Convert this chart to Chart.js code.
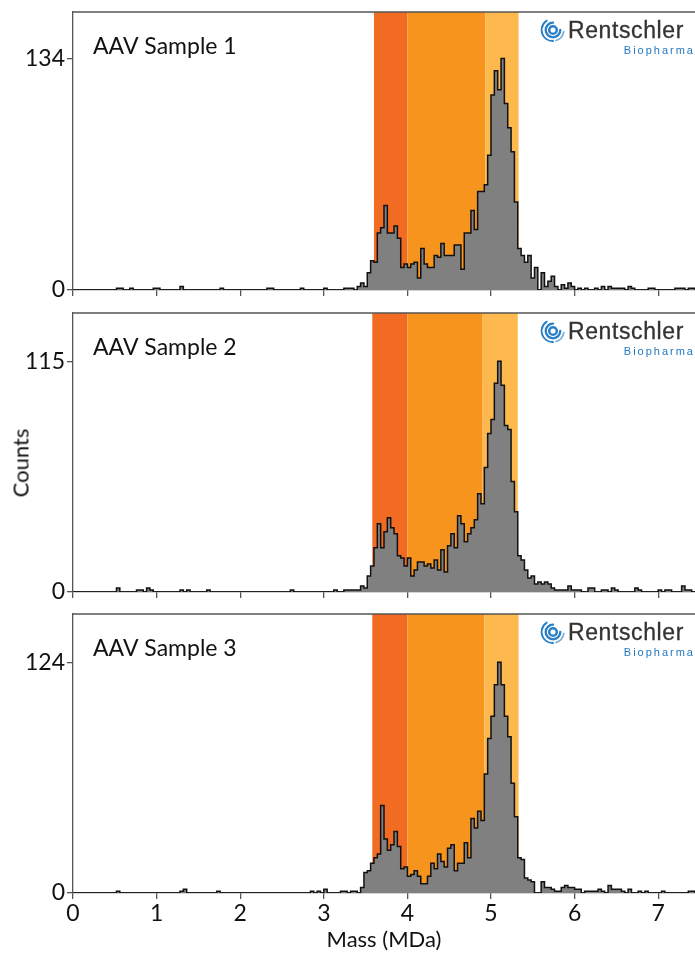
<!DOCTYPE html>
<html>
<head>
<meta charset="utf-8">
<script src="https://cdn.jsdelivr.net/npm/chart.js@4.4.1/dist/chart.umd.min.js"></script>
<style>
  html, body { margin: 0; padding: 0; background: #fff; overflow: hidden; }
  body { width: 695px; height: 955px; position: relative; font-family: Lato, sans-serif; }
  canvas { position: absolute; left: 0; }
  .logo { position: absolute; left: 538px; width: 157px; height: 44px; }
  .logo svg { position: absolute; left: 0; top: 0; }
  .logo .rt { position: absolute; left: 30px; top: 3px; font: 23px/1 "Liberation Sans", Arial, sans-serif; letter-spacing: 0.6px; color: #333; white-space: nowrap; -webkit-text-stroke: 0.3px #333; }
  .logo .bp { position: absolute; right: 0; top: 29px; font: 11px/1 "Liberation Sans", Arial, sans-serif; letter-spacing: 2px; color: #2379c0; white-space: nowrap; }
  #ylab { position: absolute; left: 20px; top: 463px; transform: translate(-50%, -50%) rotate(-90deg); font: 22px Lato, sans-serif; color: #111; white-space: nowrap; }
</style>
</head>
<body>
<canvas id="c0" width="695" height="300" style="top:0px;width:695px;height:300px"></canvas>
<canvas id="c1" width="695" height="301" style="top:301px;width:695px;height:301px"></canvas>
<canvas id="c2" width="695" height="353" style="top:602px;width:695px;height:353px"></canvas>
<div id="ylab">Counts</div>

<script>
// --- data: counts per 0.04 MDa bin, starting at 0 MDa (one row per MDa) ---
const BIN = 0.04;
const massTicks = [0, 1, 2, 3, 4, 5, 6, 7];
const sampleNames = ['AAV Sample 1', 'AAV Sample 2', 'AAV Sample 3'];
const peakTicks = [134, 115, 124];
const yTops = [161, 139, 150];

const counts1 = [
  0,0,0,0,0, 0,0,0,0,0, 0,0,0,1,1, 0,0,1,0,0, 0,0,0,0,1,
  1,0,0,0,0, 0,0,2,0,0, 0,0,0,0,0, 0,0,0,0,1, 0,0,0,0,0,
  0,0,0,0,0, 0,0,0,1,1, 0,0,0,0,0, 0,0,0,1,0, 0,0,0,0,0,
  1,0,0,0,0, 0,1,1,1,0, 2,4,2,10,17, 16,33,36,49,33, 33,37,30,13,15,
  13,15,16,7,24, 15,13,13,20,19, 27,20,20,20,26, 26,12,33,33,46, 35,57,57,61,78,
  113,127,116,134,108, 94,80,51,24,20, 16,20,7,13,0, 10,2,5,8,2, 0,3,1,4,2,
  0,1,0,1,0, 0,1,0,2,0, 2,1,1,1,1, 0,2,1,0,0, 0,0,1,1,0,
  0,0,0,0,0, 1,1,1,0,1, 1
];
const counts2 = [
  0,0,0,0,0, 0,0,0,0,0, 0,0,0,2,0, 0,0,0,0,1, 1,0,2,1,0,
  0,0,0,0,0, 0,0,1,0,1, 0,0,0,0,0, 1,0,0,0,0, 0,0,0,0,0,
  0,0,0,0,0, 0,0,0,0,0, 0,0,0,0,0, 1,0,0,0,0, 0,0,0,0,0,
  0,0,0,1,0, 0,1,1,1,1, 1,3,2,8,13, 22,34,22,30,37, 32,29,18,17,13,
  17,8,11,15,15, 13,14,12,16,11, 21,10,23,29,22, 38,34,25,29,32, 36,49,44,62,79,
  86,104,115,103,83, 81,55,40,18,16, 11,7,8,4,5, 4,5,4,2,1, 1,1,1,3,1,
  1,1,0,0,2, 2,0,0,1,1, 0,2,1,0,0, 0,0,0,2,1, 0,0,0,0,0,
  1,0,1,1,0, 0,0,3,1,1, 0
];
const counts3 = [
  0,0,0,0,0, 0,0,0,0,0, 0,0,0,1,0, 0,0,0,0,0, 0,0,0,0,0,
  0,0,0,0,0, 0,0,1,2,0, 0,0,0,0,0, 0,0,0,1,0, 0,0,0,0,0,
  0,0,0,0,0, 0,0,0,0,0, 0,0,0,0,0, 0,0,0,0,0, 0,1,0,1,0,
  2,0,0,0,0, 1,1,0,1,1, 0,3,11,12,16, 19,21,47,29,23, 26,33,25,13,14,
  9,10,12,9,5, 5,9,16,13,21, 17,14,24,26,12, 16,16,27,19,40, 35,44,39,64,83,
  95,112,124,112,95, 84,59,41,19,18, 8,7,6,0,0, 6,3,3,2,1, 1,3,4,3,3,
  2,2,0,1,1, 1,1,2,1,0, 4,2,2,2,1, 0,2,0,0,1, 0,1,0,0,0,
  0,1,0,0,0, 0,0,0,0,1, 1
];
const allCounts = [counts1, counts2, counts3];

// shaded mass windows (MDa): start of dark, dark/mid, mid/light, end of light
const bandEdges1 = [3.60, 4.00, 4.93, 5.33];
const bandEdges2 = [3.58, 4.00, 4.90, 5.32];
const bandEdges3 = [3.58, 4.00, 4.92, 5.33];
const allBands = [bandEdges1, bandEdges2, bandEdges3];

// --- layout / style ---
const X_MAX = 7.44;
const panelTops = [12, 313, 614];
const bandColors = ['#F26B22', '#F7941E', '#FDB94E'];
const axisColor = '#555';

// bands behind the histogram, frame top line, sample label
const panelPlugin = {
  id: 'panelDeco',
  beforeDatasetsDraw(chart) {
    const {ctx, chartArea: a, scales: {x}} = chart;
    const edges = allBands[chart.options.panelIndex];
    ctx.save();
    for (let j = 0; j < 3; j++) {
      const x0 = x.getPixelForValue(edges[j]);
      const x1 = x.getPixelForValue(edges[j + 1]);
      ctx.fillStyle = bandColors[j];
      ctx.fillRect(x0, a.top, x1 - x0, a.bottom - a.top);
    }
    ctx.restore();
  },
  afterDraw(chart) {
    const {ctx, chartArea: a} = chart;
    ctx.save();
    ctx.strokeStyle = axisColor;
    ctx.lineWidth = 1.3;
    ctx.beginPath();
    ctx.moveTo(a.left, a.top);
    ctx.lineTo(a.right, a.top);
    ctx.stroke();
    ctx.fillStyle = '#111';
    ctx.font = '23px Lato';
    ctx.textBaseline = 'middle';
    ctx.fillText(sampleNames[chart.options.panelIndex], a.left + 20, a.top + 35);
    ctx.restore();
  }
};

function noPad(s) {
  s.paddingTop = 0; s.paddingBottom = 0; s.paddingLeft = 0; s.paddingRight = 0;
}

function makeChart(idx) {
  const isLast = idx === 2;
  const counts = allCounts[idx];
  const pts = counts.map((c, i) => ({x: +(i * BIN).toFixed(2), y: c}));
  pts.push({x: +(counts.length * BIN).toFixed(2), y: 0});

  new Chart(document.getElementById('c' + idx), {
    type: 'line',
    data: {
      datasets: [{
        data: pts,
        stepped: 'before',
        fill: 'origin',
        backgroundColor: '#808080',
        borderColor: '#111',
        borderWidth: 1.5,
        pointRadius: 0,
        tension: 0
      }]
    },
    options: {
      panelIndex: idx,
      responsive: false,
      animation: false,
      layout: {padding: {top: 12, left: 0, right: 0, bottom: 0}},
      plugins: {legend: {display: false}, tooltip: {enabled: false}},
      scales: {
        x: {
          type: 'linear',
          min: 0,
          max: X_MAX,
          afterBuildTicks: s => { s.ticks = massTicks.map(v => ({value: v})); },
          afterFit: s => { s.height = isLast ? 62 : 10; noPad(s); },
          grid: {drawOnChartArea: false, drawTicks: true, tickLength: 6, color: axisColor, lineWidth: 1.3},
          border: {display: true, color: axisColor, width: 1.3},
          ticks: {display: isLast, color: '#111', font: {family: 'Lato', size: 23}, padding: 1, maxRotation: 0, autoSkip: false},
          title: {display: isLast, text: 'Mass (MDa)', color: '#111', font: {family: 'Lato', size: 22}, padding: {top: 0, bottom: 2}}
        },
        y: {
          min: 0,
          max: yTops[idx],
          afterBuildTicks: s => { s.ticks = [{value: 0}, {value: peakTicks[idx]}]; },
          afterFit: s => { s.width = 73; noPad(s); },
          grid: {drawOnChartArea: false, drawTicks: true, tickLength: 6, color: axisColor, lineWidth: 1.3},
          border: {display: true, color: axisColor, width: 1.3},
          ticks: {color: '#111', font: {family: 'Lato', size: 23}, padding: 2}
        }
      }
    },
    plugins: [panelPlugin]
  });
}

[0, 1, 2].forEach(makeChart);

// Rentschler logo in each panel
panelTops.forEach(top => {
  const d = document.createElement('div');
  d.className = 'logo';
  d.style.top = (top + 4) + 'px';
  d.innerHTML =
    '<svg width="30" height="28" viewBox="0 0 30 28">' +
    '<g fill="none" stroke="#2a80c6" stroke-linecap="round">' +
    '<circle cx="15" cy="14" r="3.8" stroke-width="2.5"/>' +
    '<path d="M15 6.7 A7.3 7.3 0 1 0 22.3 14" stroke-width="2.3"/>' +
    '<path d="M8.3 5 A11 11 0 0 0 15 25" stroke-width="2"/>' +
    '<path d="M4.2 11.5 A11 11 0 0 1 8.8 4.5" stroke-width="1.7" opacity="0.75"/>' +
    '<path d="M18 24.5 A11 11 0 0 0 25.8 15.5" stroke-width="1.7" opacity="0.65"/>' +
    '</g></svg>' +
    '<span class="rt">Rentschler</span><span class="bp">Biopharma</span>';
  document.body.appendChild(d);
});
</script>
</body>
</html>
